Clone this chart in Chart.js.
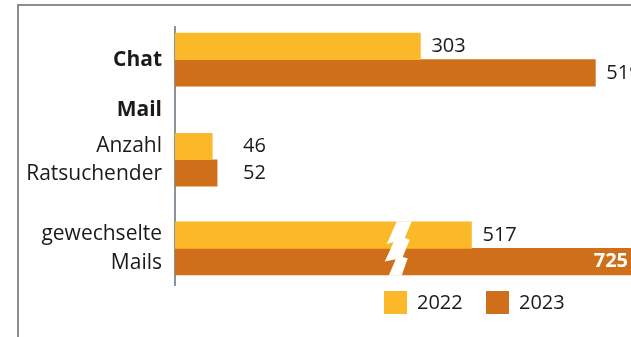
<!DOCTYPE html>
<html>
<head>
<meta charset="utf-8">
<script src="https://cdn.jsdelivr.net/npm/chart.js@4"></script>
<style>
  html, body { margin: 0; padding: 0; background: #fff; }
  #wrap { width: 631px; height: 337px; position: relative; }
</style>
</head>
<body>
<div id="wrap"><canvas id="chart"></canvas></div>
<script>
// data
const categories = [["Chat"], ["Mail"], ["Anzahl", "Ratsuchender"], ["gewechselte", "Mails"]]
const headingRows = [0, 1]
const seriesNames = ["2022", "2023"]
const values2022 = [303, null, 46, 517]
const values2023 = [519, null, 52, 725]
const brokenRows = [3]

// layout
const rowPositions = [0, 1, 2, 3.77]
const breakCut = 151   // units left out of the broken bars
const breakAt = 275    // value where the break mark sits
const labelMinValue = 84
const colors = ["#fbb829", "#d06f1a"]
const fontFamily = "'Open Sans', sans-serif"
const textColor = "#1a1a1a"

function buildPoints(values) {
  const points = []
  values.forEach((v, i) => {
    if (v === null) return
    const shown = brokenRows.includes(i) ? v - breakCut : v
    points.push({ x: shown, y: rowPositions[i], value: v, row: i })
  })
  return points
}

const framePlugin = {
  id: "frame",
  beforeDraw(chart) {
    const ctx = chart.ctx
    ctx.save()
    ctx.fillStyle = "#8e8e8e"
    ctx.fillRect(17, 4, chart.width - 17, 2)
    ctx.fillRect(17, 4, 2, chart.height - 4)
    ctx.restore()
  }
}

const labelPlugin = {
  id: "labels",
  afterDatasetsDraw(chart) {
    const ctx = chart.ctx
    const area = chart.chartArea
    const xScale = chart.scales.x
    ctx.save()
    ctx.textBaseline = "middle"

    chart.data.datasets.forEach((ds, d) => {
      const meta = chart.getDatasetMeta(d)
      meta.data.forEach((bar, i) => {
        const text = String(ds.data[i].value)
        if (bar.x > area.right) {
          ctx.font = "bold 20px " + fontFamily
          ctx.fillStyle = "#fff"
          ctx.textAlign = "right"
          ctx.fillText(text, area.right - 3, bar.y)
        } else {
          ctx.font = "20px " + fontFamily
          ctx.fillStyle = textColor
          ctx.textAlign = "left"
          const x = Math.max(bar.x + 11, xScale.getPixelForValue(labelMinValue))
          ctx.fillText(text, x, bar.y)
        }
      })
    })

    // break marks
    const top = chart.getDatasetMeta(0)
    const bottom = chart.getDatasetMeta(chart.data.datasets.length - 1)
    brokenRows.forEach(row => {
      const i = chart.data.datasets[0].data.findIndex(p => p.row === row)
      const b0 = top.data[i], b1 = bottom.data[i]
      const y0 = b0.y - b0.height / 2 - 0.5
      const y1 = b1.y + b1.height / 2 + 0.5
      const h = y1 - y0
      const cx = xScale.getPixelForValue(breakAt)
      const pts = [
        [-1, 0], [14, 0], [7, 0.3], [12, 0.34], [5, 0.66], [10, 0.68], [4, 1],
        [-9, 1], [-2, 0.7], [-13, 0.74], [-4, 0.38], [-11, 0.42]
      ]
      ctx.fillStyle = "#fff"
      ctx.beginPath()
      pts.forEach(([dx, fy], k) => {
        const px = cx + dx, py = y0 + fy * h
        if (k === 0) ctx.moveTo(px, py)
        else ctx.lineTo(px, py)
      })
      ctx.closePath()
      ctx.fill()
    })

    // legend
    const ly = area.bottom + 6
    const lx = [384, 486]
    ctx.font = "20px " + fontFamily
    ctx.textAlign = "left"
    chart.data.datasets.forEach((ds, d) => {
      ctx.fillStyle = ds.backgroundColor
      ctx.fillRect(lx[d], ly, 23, 23)
      ctx.fillStyle = textColor
      ctx.fillText(ds.label, lx[d] + 33, ly + 12)
    })
    ctx.restore()
  }
}

new Chart(document.getElementById("chart"), {
  type: "bar",
  data: {
    datasets: [
      { label: seriesNames[0], data: buildPoints(values2022), backgroundColor: colors[0] },
      { label: seriesNames[1], data: buildPoints(values2023), backgroundColor: colors[1] }
    ]
  },
  options: {
    indexAxis: "y",
    responsive: true,
    maintainAspectRatio: false,
    animation: false,
    barThickness: 26.5,
    layout: { padding: { top: 27, bottom: 52, left: 0, right: 0 } },
    plugins: {
      legend: { display: false },
      tooltip: { enabled: false }
    },
    scales: {
      x: {
        type: "linear",
        display: false,
        min: 0,
        max: 563
      },
      y: {
        type: "linear",
        reverse: true,
        offset: false,
        min: -0.65,
        max: 4.5,
        z: 1,
        grid: { display: false, drawTicks: false, offset: false },
        border: { display: true, color: "#8a939a", width: 2 },
        afterBuildTicks(scale) {
          scale.ticks = rowPositions.map(v => ({ value: v }))
        },
        afterFit(scale) {
          scale.width = 175
          scale.paddingTop = 0
          scale.paddingBottom = 0
        },
        ticks: {
          autoSkip: false,
          padding: 13,
          color: textColor,
          font: ctx => ({
            family: fontFamily,
            size: 21,
            lineHeight: 1.35,
            weight: headingRows.includes(ctx.index) ? "bold" : "normal"
          }),
          callback: (value, index) => categories[index]
        }
      }
    }
  },
  plugins: [framePlugin, labelPlugin]
})
</script>
</body>
</html>
